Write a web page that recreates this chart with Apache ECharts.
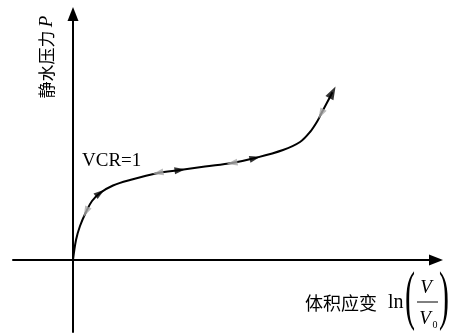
<!DOCTYPE html>
<html>
<head>
<meta charset="utf-8">
<script src="https://cdn.jsdelivr.net/npm/echarts@6/dist/echarts.min.js"></script>
<style>
  html, body { margin: 0; padding: 0; background: #fff; }
  #chart { width: 451px; height: 336px; }
</style>
</head>
<body>
<div id="chart"></div>
<script>
// Hydrostatic compression curve (schematic units):
// volumetric strain ln(V/V0) on x, hydrostatic pressure P on y.
const strain   = [0, 0.03, 0.07, 0.13, 0.19, 0.27, 0.40, 0.57, 0.85, 1.07, 1.32, 1.59, 1.82, 2.10, 2.27, 2.37, 2.45, 2.48, 2.595];
const pressure = [0, 0.20, 0.34, 0.48, 0.59, 0.67, 0.745, 0.80, 0.87, 0.90, 0.935, 0.97, 1.02, 1.10, 1.18, 1.28, 1.40, 1.46, 1.677];

// Arrowheads on the curve: index of the curve point, +1 = loading (black), -1 = unloading (grey)
const arrowIdx = [3, 5, 8, 9, 11, 12, 17, 18];
const arrowDir = [-1, 1, -1, 1, -1, 1, -1, 1];

const curveLabel = 'VCR=1';

const serif = 'Liberation Serif, Times New Roman, serif';
const cjk = 'Noto Sans CJK SC, sans-serif';

const chart = echarts.init(document.getElementById('chart'), null, { renderer: 'canvas' });

const axisCommon = {
  type: 'value',
  axisLine: {
    show: true,
    onZero: true,
    symbol: ['none', 'triangle'],
    symbolSize: [11, 14],
    lineStyle: { color: '#000', width: 2 }
  },
  axisTick: { show: false },
  axisLabel: { show: false },
  splitLine: { show: false }
};

const curve = strain.map((x, i) => [x, pressure[i]]);

chart.setOption({
  animation: false,
  backgroundColor: '#fff',
  grid: { left: 13, right: 15, top: 14, bottom: 4 },
  xAxis: Object.assign({}, axisCommon, { min: -0.6, max: 3.63 }),
  yAxis: Object.assign({}, axisCommon, { min: -0.72, max: 2.46 }),
  series: [{
    type: 'line',
    data: curve,
    smooth: 0.35,
    symbol: 'none',
    lineStyle: { color: '#000', width: 2 },
    z: 2
  }],
  graphic: [
    {
      type: 'text', x: 47, y: 57, rotation: Math.PI / 2,
      style: {
        text: '{c|静水压力} {p|P}',
        rich: {
          c: { fontFamily: cjk, fontSize: 17, fill: '#000' },
          p: { fontFamily: serif, fontStyle: 'italic', fontSize: 19, fill: '#000' }
        },
        align: 'center', verticalAlign: 'middle'
      }
    },
    {
      type: 'text', x: 82, y: 161,
      style: { text: curveLabel, fontFamily: serif, fontSize: 19, fill: '#000', align: 'left', verticalAlign: 'middle' }
    },
    {
      type: 'text', x: 305, y: 303,
      style: { text: '体积应变', fontFamily: cjk, fontSize: 18, fill: '#000', align: 'left', verticalAlign: 'middle' }
    },
    {
      type: 'text', x: 388, y: 303,
      style: { text: 'ln', fontFamily: serif, fontSize: 20, fill: '#000', align: 'left', verticalAlign: 'middle' }
    },
    {
      type: 'text', x: 410, y: 300, scaleY: 2.15,
      style: { text: '(', fontFamily: serif, fontSize: 30, fill: '#000', align: 'center', verticalAlign: 'middle' }
    },
    {
      type: 'text', x: 444, y: 300, scaleY: 2.15,
      style: { text: ')', fontFamily: serif, fontSize: 30, fill: '#000', align: 'center', verticalAlign: 'middle' }
    },
    {
      type: 'text', x: 426, y: 288,
      style: { text: 'V', fontFamily: serif, fontStyle: 'italic', fontSize: 19, fill: '#000', align: 'center', verticalAlign: 'middle' }
    },
    {
      type: 'line',
      shape: { x1: 417, y1: 302, x2: 438, y2: 302 },
      style: { stroke: '#000', lineWidth: 1 }
    },
    {
      type: 'text', x: 425, y: 319,
      style: { text: 'V', fontFamily: serif, fontStyle: 'italic', fontSize: 19, fill: '#000', align: 'center', verticalAlign: 'middle' }
    },
    {
      type: 'text', x: 435, y: 325,
      style: { text: '0', fontFamily: serif, fontSize: 10, fill: '#000', align: 'center', verticalAlign: 'middle' }
    }
  ]
});

// Orient each arrowhead along the curve tangent in pixel space
const px = curve.map(p => chart.convertToPixel({ gridIndex: 0 }, p));
const arrowData = arrowIdx.map((i, k) => {
  const a = px[Math.max(i - 1, 0)];
  const b = px[Math.min(i + 1, px.length - 1)];
  let ang = Math.atan2(-(b[1] - a[1]), b[0] - a[0]);
  if (arrowDir[k] < 0) ang += Math.PI;
  const isEnd = i === px.length - 1;
  return {
    value: curve[i],
    symbolRotate: ang * 180 / Math.PI - 90,
    symbolSize: isEnd ? [9, 13] : [7, 11],
    itemStyle: { color: arrowDir[k] > 0 ? '#000' : '#a9a9a9' }
  };
});

chart.setOption({
  series: [{}, {
    type: 'scatter',
    data: arrowData,
    symbol: 'triangle',
    z: 3,
    silent: true
  }]
});
</script>
</body>
</html>
